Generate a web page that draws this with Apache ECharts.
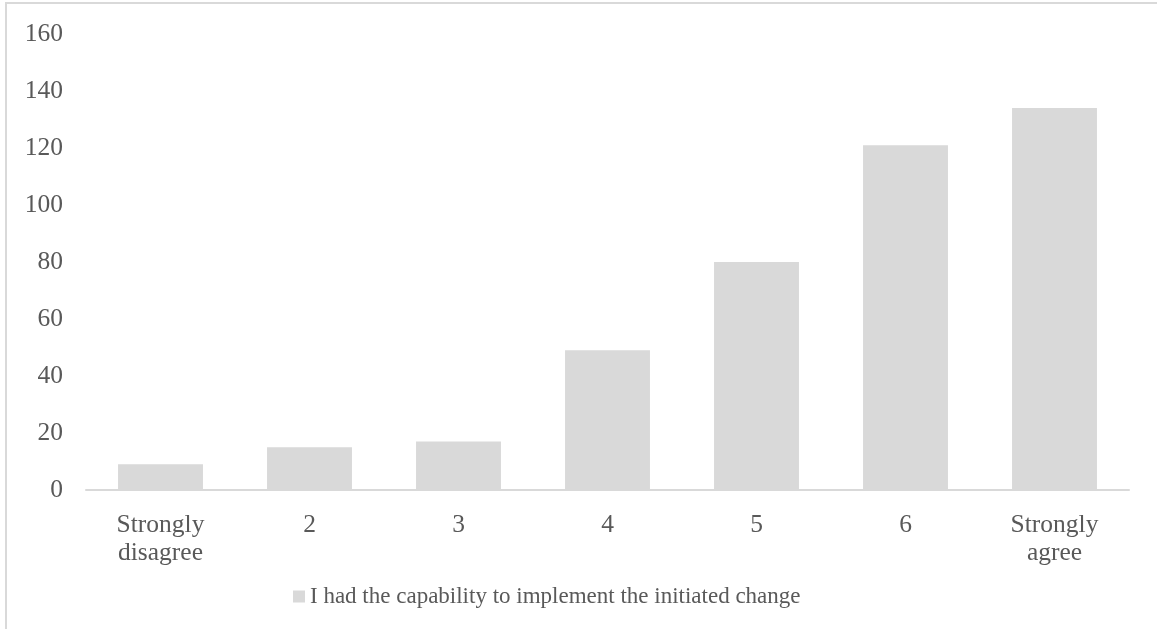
<!DOCTYPE html>
<html>
<head>
<meta charset="utf-8">
<style>
  html, body { margin: 0; padding: 0; background: #ffffff; }
  #chart { width: 1157px; height: 629px; }
</style>
<script src="https://cdn.jsdelivr.net/npm/echarts@6/dist/echarts.min.js"></script>
</head>
<body>
<div id="chart"></div>
<script>
// Survey responses on a 7-point agreement scale
const categories = ['Strongly\ndisagree', '2', '3', '4', '5', '6', 'Strongly\nagree'];
const counts = [9, 15, 17, 49, 80, 121, 134];
const seriesName = 'I had the capability to implement the initiated change';
const yTicks = { min: 0, max: 160, interval: 20 };

const textColor = '#595959';
const fontFamily = '"Liberation Serif", "Times New Roman", serif';
const axisFontSize = 25.5;
const legendFontSize = 23;

const chart = echarts.init(document.getElementById('chart'), null, { renderer: 'canvas' });

chart.setOption({
  animation: false,
  backgroundColor: '#ffffff',
  textStyle: { fontFamily: fontFamily, color: textColor },
  graphic: [
    // frame: top and left edges
    { type: 'line', shape: { x1: 5, y1: 3, x2: 1157, y2: 3 }, style: { stroke: '#d9d9d9', lineWidth: 2 } },
    { type: 'line', shape: { x1: 6, y1: 3, x2: 6, y2: 629 }, style: { stroke: '#d9d9d9', lineWidth: 2 } }
  ],
  grid: { left: 86, right: 28, top: 34, bottom: 139, containLabel: false },
  legend: {
    data: [seriesName],
    top: 580,
    left: 288,
    itemWidth: 12,
    itemHeight: 12,
    icon: 'rect',
    textStyle: { fontFamily: fontFamily, fontSize: legendFontSize, color: textColor, padding: [0, 0, 0, 0] }
  },
  xAxis: {
    type: 'category',
    data: categories,
    axisLine: { show: true, lineStyle: { color: '#d9d9d9', width: 2 } },
    axisTick: { show: false },
    axisLabel: {
      interval: 0,
      margin: 21,
      fontFamily: fontFamily,
      fontSize: axisFontSize,
      lineHeight: 28,
      color: textColor
    }
  },
  yAxis: {
    type: 'value',
    min: yTicks.min,
    max: yTicks.max,
    interval: yTicks.interval,
    axisLine: { show: false },
    axisTick: { show: false },
    splitLine: { show: false },
    axisLabel: {
      margin: 23,
      fontFamily: fontFamily,
      fontSize: axisFontSize,
      color: textColor
    }
  },
  series: [{
    name: seriesName,
    type: 'bar',
    data: counts,
    barWidth: '57%',
    itemStyle: { color: '#d9d9d9' }
  }]
});
</script>
</body>
</html>
